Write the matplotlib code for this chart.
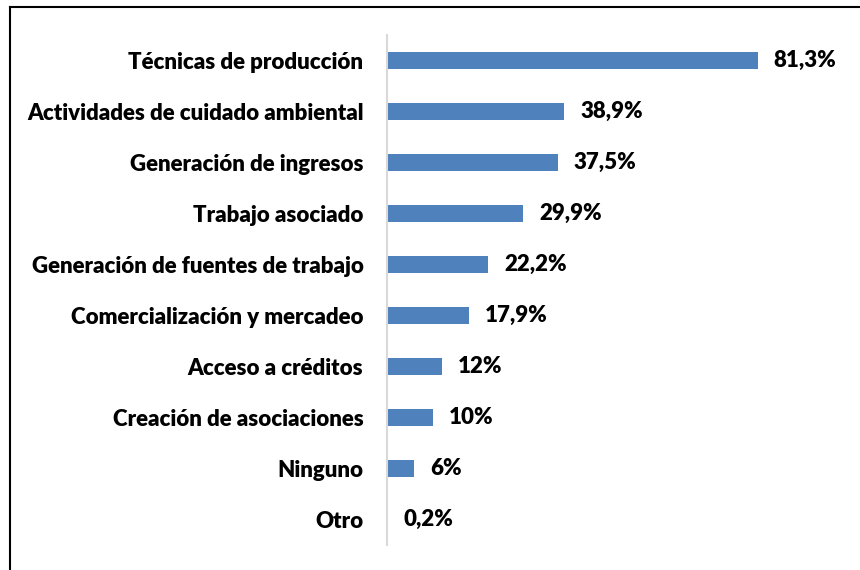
import matplotlib
matplotlib.use("Agg")
import matplotlib.pyplot as plt
from matplotlib.lines import Line2D

categories = ["Técnicas de producción", "Actividades de cuidado ambiental",
              "Generación de ingresos", "Trabajo asociado",
              "Generación de fuentes de trabajo", "Comercialización y mercadeo",
              "Acceso a créditos", "Creación de asociaciones", "Ninguno", "Otro"]
values = [81.3, 38.9, 37.5, 29.9, 22.2, 17.9, 12, 10, 6, 0.2]

W, H = 860, 570
fig = plt.figure(figsize=(W/100, H/100), dpi=100)
ax = fig.add_axes([387/W, (H-545)/H, (843-387)/W, 510/H])

plt.rcParams['font.family'] = ['Lato', 'DejaVu Sans']
fs = 16
fw = 'heavy'
ypos = list(range(len(categories)))
ax.barh(ypos, values, height=0.35, color="#4f81bd")
ax.set_xlim(0, 100)
ax.set_ylim(len(categories) - 0.5, -0.5)
ax.set_yticks(ypos)
ax.set_yticklabels(categories, fontsize=fs, fontweight=fw, family=['Lato', 'DejaVu Sans'])
ax.tick_params(axis='y', length=0, pad=17)
ax.set_xticks([])
for s in ['top', 'right', 'bottom']:
    ax.spines[s].set_visible(False)
ax.spines['left'].set_color('#d9d9d9')
ax.spines['left'].set_linewidth(1.5)

for y, v in zip(ypos, values):
    txt = f"{v:g}".replace('.', ',') + '%'
    ax.annotate(txt, xy=(v, y), xytext=(11.5, 0), textcoords='offset points',
                va='center', ha='left', fontsize=fs, fontweight=fw,
                family=['Lato', 'DejaVu Sans'], annotation_clip=False)

fig.add_artist(Line2D([9.5/W, 9.5/W], [0, 1 - 6.5/H], transform=fig.transFigure, color='black', lw=1.5))
fig.add_artist(Line2D([9.5/W, 1], [1 - 6.5/H, 1 - 6.5/H], transform=fig.transFigure, color='black', lw=1.5))

fig.savefig("out.png", dpi=100)
